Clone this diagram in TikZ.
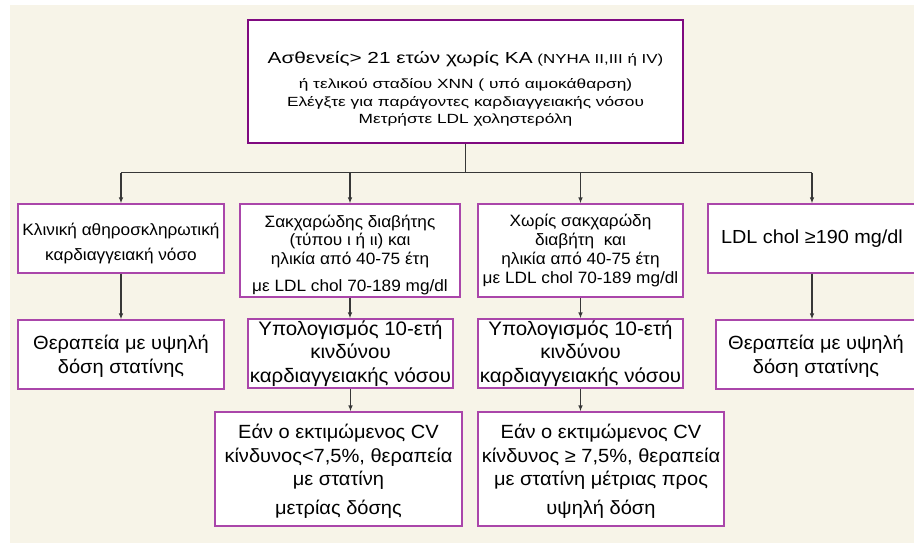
\documentclass[tikz,border=0pt]{standalone}
\usepackage{fontspec}
\setmainfont[FakeStretch=1.05]{Liberation Sans}
\newfontfamily\widefont[FakeStretch=1.3]{Liberation Sans}
\usepackage{tikz}
\usetikzlibrary{arrows.meta}
\definecolor{bgbeige}{RGB}{247, 244, 232}
\definecolor{boxpurple}{RGB}{170, 70, 170}
\definecolor{toppurple}{RGB}{128, 10, 128}
\definecolor{linegray}{RGB}{55, 55, 55}

\begin{document}
\begin{tikzpicture}[x=1pt, y=-1pt,
    box/.style={rectangle, draw=boxpurple, line width=1.1pt,
                fill=white, align=center, inner sep=0pt},
    arr/.style={-{Latex[length=6pt,width=4.5pt]}, line width=1.2pt, color=linegray},
    link/.style={line width=1.8pt, color=linegray}]

    \useasboundingbox (0,0) rectangle (914,543);
    \fill[bgbeige] (10,5) rectangle (914,543);

    \node[box, draw=toppurple, minimum width=435pt, minimum height=123pt,
          font=\widefont\fontsize{13.3}{17.5}\selectfont] (top) at (465.5,81.5)
        {\rule{0pt}{27pt}{\fontsize{16}{20}\selectfont Ασθενείς> 21 ετών χωρίς ΚΑ}
         {\fontsize{13}{16}\selectfont (NYHA II,III ή IV)}\\[8pt]
         ή τελικού σταδίου ΧΝΝ ( υπό αιμοκάθαρση)\\
         Ελέγξτε για παράγοντες καρδιαγγειακής νόσου\\
         Μετρήστε LDL χοληστερόλη};

    \node[box, minimum width=206pt, minimum height=69pt,
          font=\fontsize{16.4}{25}\selectfont] (b1) at (121,238.5)
        {\rule{0pt}{22.8pt}Κλινική αθηροσκληρωτική\\ καρδιαγγειακή νόσο};
    \node[box, minimum width=220pt, minimum height=93pt,
          font=\fontsize{16.4}{18}\selectfont] (b2) at (350,250.5)
        {\rule{0pt}{21.8pt}Σακχαρώδης διαβήτης\\ (τύπου ι ή ιι) και\\[1pt] ηλικία από 40-75 έτη\\[9pt]
         με LDL chol 70-189 mg/dl};
    \node[box, minimum width=205pt, minimum height=93pt,
          font=\fontsize{16.4}{19}\selectfont] (b3) at (580.5,250.5)
        {Χωρίς σακχαρώδη\\ διαβήτη\ \ και\\ ηλικία από 40-75 έτη\\
         με LDL chol 70-189 mg/dl};
    \node[box, minimum width=208pt, minimum height=69pt,
          font=\fontsize{18.9}{22}\selectfont] (b4) at (812,238.5)
        {LDL chol ≥190 mg/dl};

    \node[box, minimum width=206pt, minimum height=69pt,
          font=\fontsize{19.1}{24}\selectfont] (c1) at (121,354.5)
        {\rule{0pt}{17.2pt}Θεραπεία με υψηλή\\ δόση στατίνης};
    \node[box, minimum width=205pt, minimum height=69pt,
          font=\fontsize{19.5}{23.5}\selectfont] (c2) at (350.5,353.5)
        {Υπολογισμός 10-ετή\\ κινδύνου\\ καρδιαγγειακής νόσου};
    \node[box, minimum width=205pt, minimum height=69pt,
          font=\fontsize{19.5}{23.5}\selectfont] (c3) at (580.5,353.5)
        {Υπολογισμός 10-ετή\\ κινδύνου\\ καρδιαγγειακής νόσου};
    \node[box, minimum width=200pt, minimum height=69pt,
          font=\fontsize{19.1}{24}\selectfont] (c4) at (816,354.5)
        {\rule{0pt}{17.2pt}Θεραπεία με υψηλή\\ δόση στατίνης};

    \node[box, minimum width=247pt, minimum height=114pt,
          font=\fontsize{19.1}{23.5}\selectfont] (d2) at (338.5,469)
        {\rule{0pt}{19.7pt}Εάν ο εκτιμώμενος CV\\ κίνδυνος<7,5\%, θεραπεία\\ με στατίνη\\[5.5pt]
         μετρίας δόσης};
    \node[box, minimum width=246pt, minimum height=114pt,
          font=\fontsize{19.1}{23.5}\selectfont] (d3) at (601,469)
        {\rule{0pt}{19.7pt}Εάν ο εκτιμώμενος CV\\ κίνδυνος ≥ 7,5\%, θεραπεία\\ με στατίνη μέτριας προς\\[5.5pt]
         υψηλή δόση};

    \draw[link] (top.south) -- ++(0,29) coordinate (split);
    \draw[link] (b1.north |- split) -- (b4.north |- split);
    \draw[arr] (b1.north |- split) -- (b1.north);
    \draw[arr] (b2.north |- split) -- (b2.north);
    \draw[arr] (b3.north |- split) -- (b3.north);
    \draw[arr] (b4.north |- split) -- (b4.north);

    \draw[arr] (b1.south) -- (c1.north);
    \draw[arr] (b2.south) -- (b2.south |- c2.north);
    \draw[arr] (b3.south) -- (b3.south |- c3.north);
    \draw[arr] (b4.south) -- (b4.south |- c4.north);

    \draw[arr] (c2.south) -- (c2.south |- d2.north);
    \draw[arr] (c3.south) -- (c3.south |- d3.north);

\end{tikzpicture}
\end{document}
